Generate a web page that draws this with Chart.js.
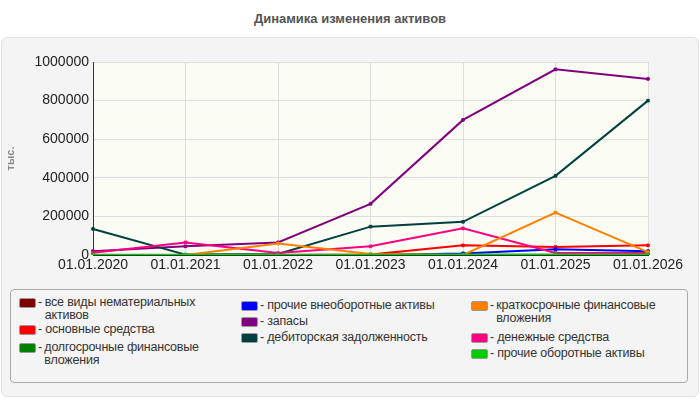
<!DOCTYPE html>
<html><head><meta charset="utf-8">
<script src="https://cdn.jsdelivr.net/npm/chart.js@4/dist/chart.umd.min.js"></script>
<style>
body{margin:0;width:700px;height:400px;background:#fff;font-family:"Liberation Sans",Arial,sans-serif;position:relative;overflow:hidden}
#title{position:absolute;top:11px;left:0;width:700px;text-align:center;font-weight:bold;font-size:13px;color:#555}
#panel{position:absolute;left:1px;top:37px;width:696px;height:358px;background:#f4f4f4;border:1px solid #e2e2e2;border-radius:6px}
#wrap{position:absolute;left:0;top:40px;width:700px;height:240px}
#legend{position:absolute;left:10px;top:289px;width:676px;height:92px;border:1px solid #aaa;border-radius:4px;background:#f4f4f4}
.it{position:absolute;font-size:12.5px;color:#333;line-height:13px;display:flex;letter-spacing:-0.2px}
.sw{width:15px;height:8px;border:1px solid #999;border-radius:2px;margin:2px 2px 0 0;flex:none}
</style></head><body>
<div id="title">Динамика изменения активов</div>
<div id="panel"></div>
<div id="wrap"><canvas id="c"></canvas></div>
<div id="legend"></div>
<script>
const categories = ['01.01.2020','01.01.2021','01.01.2022','01.01.2023','01.01.2024','01.01.2025','01.01.2026'];
const names = ['все виды нематериальных активов','основные средства','долгосрочные финансовые вложения','прочие внеоборотные активы','запасы','дебиторская задолженность','краткосрочные финансовые вложения','денежные средства','прочие оборотные активы'];
const colors = ['#800000','#ff0000','#008000','#0000ff','#800080','#004040','#ff8000','#ff0080','#00cc00'];
const intangible = [0,0,0,0,0,0,0];
const fixedAssets = [0,0,0,2000,50000,42000,50000];
const longInvest = [0,0,0,0,0,0,0];
const otherNonCurrent = [0,0,0,0,8000,30000,20000];
const inventory = [20000,45000,65000,265000,700000,962000,912000];
const receivables = [135000,2000,5000,147000,172000,410000,800000];
const shortInvest = [null,0,60000,5000,0,220000,15000];
const cash = [12000,65000,10000,45000,138000,10000,10000];
const otherCurrent = [1000,1000,1000,1000,2000,2000,2000];
const series = [intangible,fixedAssets,longInvest,otherNonCurrent,inventory,receivables,shortInvest,cash,otherCurrent];
const yTicks = [0,200000,400000,600000,800000,1000000];

const order = [4,5,1,3,7,6,0,2,8]; // drawing order, green on top
const datasets = order.map(i => ({
  label: names[i], data: series[i], borderColor: colors[i], backgroundColor: colors[i],
  borderWidth: 2, pointRadius: 2, pointStyle: 'crossRot', pointBorderWidth: 2, tension: 0, order: 9 - order.indexOf(i)
}));

const plotBg = {id:'plotBg', beforeDraw(ch){const a=ch.chartArea,c=ch.ctx;c.save();c.fillStyle='#fbfcf4';c.fillRect(a.left,a.top,a.right-a.left,a.bottom-a.top);c.restore();}};

new Chart(document.getElementById('c'), {
  type: 'line',
  data: { labels: categories, datasets },
  plugins: [plotBg],
  options: {
    responsive: true, maintainAspectRatio: false, animation: false,
    layout: { padding: { top: 22, right: 52, left: 0, bottom: 0 } },
    plugins: { legend: { display: false }, tooltip: { enabled: false } },
    scales: {
      x: {
        offset: false,
        afterFit: s => { s.height = 25; },
        grid: { color: '#dddddd', drawTicks: false },
        border: { color: '#333', width: 1 },
        ticks: { color: '#222', font: { size: 14, family: 'Liberation Sans Narrow, Liberation Sans' }, padding: 2, maxRotation: 0 }
      },
      y: {
        min: 0, max: 1000000,
        afterFit: s => { s.width = 93; },
        afterBuildTicks: s => { s.ticks = yTicks.map(v => ({ value: v })); },
        grid: { color: '#dddddd', drawTicks: false },
        border: { color: '#333', width: 1 },
        title: { display: true, text: 'тыс.', color: '#888', font: { size: 11, weight: 'bold' }, padding: { bottom: 14 } },
        ticks: { color: '#222', font: { size: 14, family: 'Liberation Sans Narrow, Liberation Sans' }, padding: 4, callback: v => String(v) }
      }
    }
  }
});

// legend in three columns as in the picture
const pos = [[8,6],[8,33],[8,51],[230,9],[230,25],[230,41],[460,9],[460,41],[460,57]];
const lg = document.getElementById('legend');
names.forEach((n,i) => {
  const d = document.createElement('div');
  d.className = 'it';
  d.style.left = pos[i][0]+'px'; d.style.top = pos[i][1]+'px';
  d.style.width = (i < 3 ? 210 : i < 6 ? 225 : 210) + 'px';
  d.innerHTML = '<span class="sw" style="background:'+colors[i]+'"></span><span>-&nbsp;</span><span>'+n+'</span>';
  lg.appendChild(d);
});
</script>
</body></html>
